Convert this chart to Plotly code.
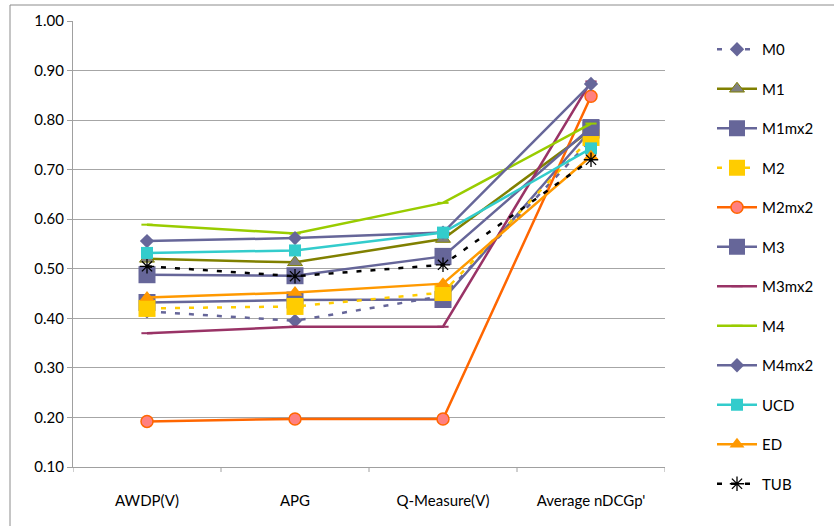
import plotly.graph_objects as go

categories = ["AWDP(V)", "APG", "Q-Measure(V)", "Average nDCGp'"]
series_names = ["M0", "M1", "M1mx2", "M2", "M2mx2", "M3", "M3mx2", "M4", "M4mx2", "UCD", "ED", "TUB"]

M0 = [0.414, 0.395, 0.445, 0.760]
M1 = [0.520, 0.513, 0.560, 0.780]
M1mx2 = [0.432, 0.437, 0.438, 0.780]
M2 = [0.420, 0.424, 0.452, 0.765]
M2mx2 = [0.192, 0.197, 0.197, 0.848]
M3 = [0.488, 0.486, 0.525, 0.785]
M3mx2 = [0.370, 0.383, 0.383, 0.878]
M4 = [0.589, 0.571, 0.633, 0.793]
M4mx2 = [0.556, 0.562, 0.573, 0.873]
UCD = [0.532, 0.537, 0.573, 0.743]
ED = [0.442, 0.452, 0.470, 0.727]
TUB = [0.505, 0.485, 0.508, 0.720]

values = [M0, M1, M1mx2, M2, M2mx2, M3, M3mx2, M4, M4mx2, UCD, ED, TUB]

y_ticks = [0.1, 0.2, 0.3, 0.4, 0.5, 0.6, 0.7, 0.8, 0.9, 1.0]

styles = {
    "M0": dict(line=dict(color="#666699", width=2.5, dash="5px,9px"),
               marker=dict(symbol="diamond", size=11, color="#666699")),
    "M1": dict(line=dict(color="#808000", width=2.5),
               marker=dict(symbol="triangle-up", size=13, color="#808080",
                           line=dict(color="#808000", width=1))),
    "M1mx2": dict(line=dict(color="#666699", width=2.5),
                  marker=dict(symbol="square", size=17, color="#666699")),
    "M2": dict(line=dict(color="#FFCC00", width=2.5, dash="5px,9px"),
               marker=dict(symbol="square", size=17, color="#FFCC00")),
    "M2mx2": dict(line=dict(color="#FF6600", width=2.5),
                  marker=dict(symbol="circle", size=12, color="#FF8080",
                              line=dict(color="#FF6600", width=1.5))),
    "M3": dict(line=dict(color="#666699", width=2.5),
               marker=dict(symbol="square", size=17, color="#666699")),
    "M3mx2": dict(line=dict(color="#993366", width=2.5),
                  marker=dict(symbol="line-ew-open", size=8, color="#993366",
                              line=dict(color="#993366", width=2))),
    "M4": dict(line=dict(color="#99CC00", width=2.5),
               marker=dict(symbol="line-ew-open", size=8, color="#99CC00",
                           line=dict(color="#99CC00", width=2))),
    "M4mx2": dict(line=dict(color="#666699", width=2.5),
                  marker=dict(symbol="diamond", size=11, color="#666699")),
    "UCD": dict(line=dict(color="#33CCCC", width=2.5),
                marker=dict(symbol="square", size=12, color="#33CCCC")),
    "ED": dict(line=dict(color="#FF9900", width=2.5),
               marker=dict(symbol="triangle-up", size=13, color="#FF9900")),
    "TUB": dict(line=dict(color="#000000", width=2.5, dash="5px,9px"),
                marker=dict(symbol="asterisk-open", size=12, color="#000000",
                            line=dict(color="#000000", width=1.3))),
}

fig = go.Figure()
xs = list(range(len(categories)))
for name, vals in zip(series_names, values):
    st = styles[name]
    fig.add_trace(go.Scatter(x=xs, y=vals, mode="lines+markers", name=name,
                             line=st["line"], marker=st["marker"],
                             legendgroup=name))

W, H = 834, 526
L, R, T, B = 73, 665, 21, 467
pw, ph = R - L, B - T

fig.update_layout(
    width=W, height=H,
    margin=dict(l=L, r=W - R, t=T, b=H - B, pad=0),
    paper_bgcolor="white", plot_bgcolor="white",
    font=dict(family="Lato, 'Open Sans', sans-serif", size=15, color="#000000"),
    showlegend=True,
    legend=dict(x=(712 - L) / pw, y=(467 - 33) / ph, xanchor="left", yanchor="top",
                tracegroupgap=17, font=dict(size=15), bgcolor="rgba(0,0,0,0)",
                itemwidth=40, maxheight=520),
    xaxis=dict(range=[-0.5, 3.5], tickmode="array", tickvals=xs, ticktext=categories,
               showgrid=False, zeroline=False, showline=True, linecolor="#A0A0A0",
               linewidth=1, ticks="", ticklabelstandoff=20, fixedrange=True),
    yaxis=dict(range=[0.1, 1.0], tickmode="array", tickvals=y_ticks,
               ticktext=[f"{v:.2f}" for v in y_ticks],
               showgrid=True, gridcolor="#A6A6A6", gridwidth=1,
               zeroline=False, showline=True, linecolor="#A0A0A0", linewidth=1,
               ticks="outside", ticklen=5, tickcolor="#A0A0A0", fixedrange=True),
)

# category boundary tick marks on x-axis
for b in [-0.5, 0.5, 1.5, 2.5, 3.5]:
    fig.add_shape(type="line", xref="x", yref="paper", x0=b, x1=b, y0=0, y1=-5 / ph,
                  line=dict(color="#A0A0A0", width=1))

# chart frame (top-left border visible)
fig.add_shape(type="rect", xref="paper", yref="paper",
              x0=(10 - L) / pw, x1=(W + 20 - L) / pw,
              y0=-(H + 20 - B) / ph, y1=(B - 5) / ph,
              line=dict(color="#8C8C8C", width=1), layer="below")

fig.write_html("out.html")
